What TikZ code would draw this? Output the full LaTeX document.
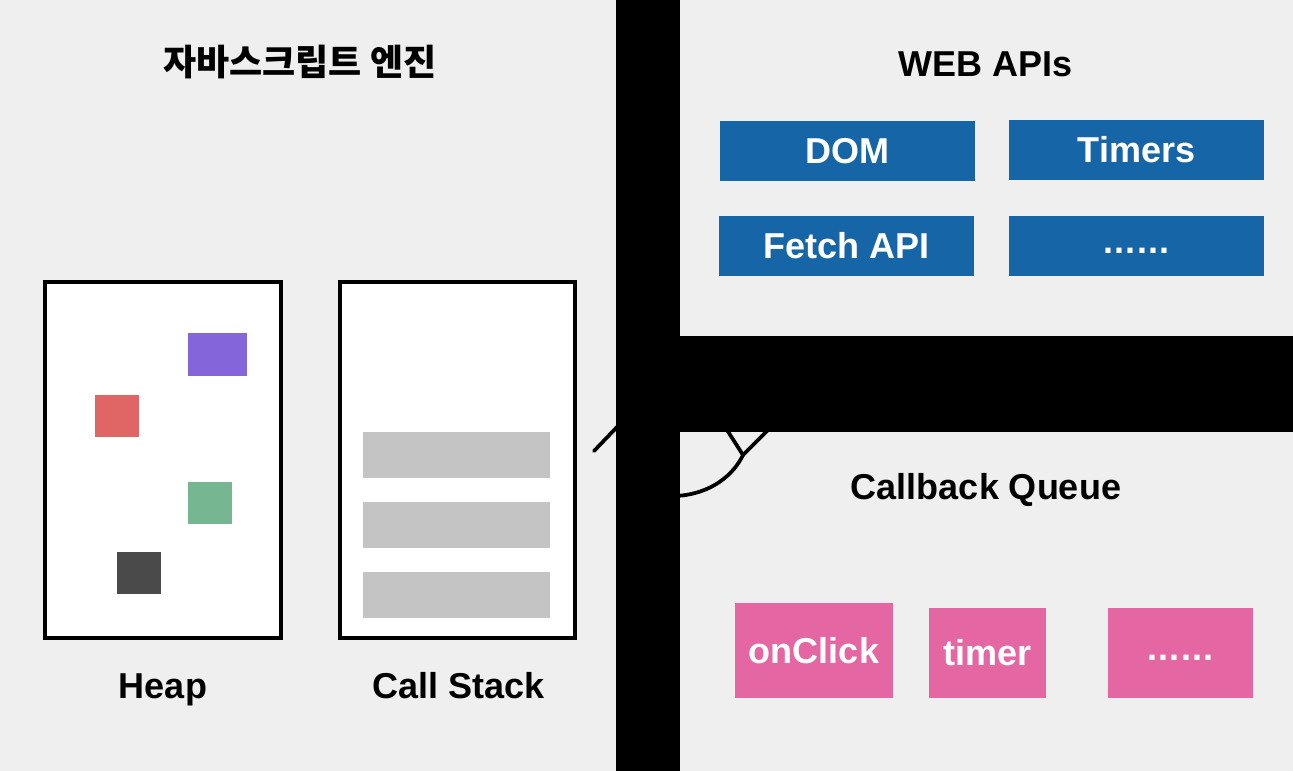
\documentclass[tikz,border=0pt]{standalone}
\usepackage{fontspec}
\setmainfont{Liberation Sans}
\newfontfamily\kr{Noto Sans CJK KR}
\definecolor{bg}{HTML}{EFEFEF}
\definecolor{webblue}{HTML}{1565A7}
\definecolor{qpink}{HTML}{E466A3}
\definecolor{heappurple}{HTML}{8466DA}
\definecolor{heapred}{HTML}{E06666}
\definecolor{heapgreen}{HTML}{76B792}
\definecolor{heapdark}{HTML}{4A4A4A}
\definecolor{stackgray}{HTML}{C4C4C4}
\newcommand{\dotrow}{\raisebox{4pt}{\addfontfeature{LetterSpace=3}......}}
\tikzset{
  title/.style={font=\fontsize{27}{32}\selectfont\bfseries, text=black, inner sep=0pt},
  boxtext/.style={text=white, font=\fontsize{27}{32}\selectfont\bfseries, inner sep=0pt, text height=19.4pt, text depth=0pt},
  bluebox/.style={boxtext, fill=webblue, draw=none, minimum width=255*0.75pt, minimum height=60*0.75pt},
  pinkbox/.style={boxtext, fill=qpink, draw=none, minimum height=90*0.75pt},
  memframe/.style={draw=black, line width=3pt, fill=white},
  band/.style={fill=black, draw=none},
  wire/.style={draw=black, line width=2.8pt, line cap=round}
}
\begin{document}
\begin{tikzpicture}[x=0.75pt,y=-0.75pt]
\useasboundingbox (0,0) rectangle (1293,771);
\fill[bg] (0,0) rectangle (1293,771);

% titles
\node[title] (jstitle) at (300,62) {\kr\bfseries 자바스크립트 엔진};
\node[title, anchor=base] (webtitle) at (986,76) {WEB APIs};
\node[title, anchor=base] (cbtitle) at (986,499) {Callback Queue};
\node[title, anchor=base] (heaplbl) at (163,698) {Heap};
\node[title, anchor=base] (stacklbl) at (459,698) {Call Stack};

% heap and call stack frames
\draw[memframe] (45,282) rectangle (281,638);
\draw[memframe] (340,282) rectangle (575,638);

% heap objects
\fill[heappurple] (188,333) rectangle (247,376);
\fill[heapred] (95,395) rectangle (139,437);
\fill[heapgreen] (188,482) rectangle (232,524);
\fill[heapdark] (117,552) rectangle (161,594);

% call stack frames
\fill[stackgray] (363,432) rectangle (550,478);
\fill[stackgray] (363,502) rectangle (550,548);
\fill[stackgray] (363,572) rectangle (550,618);

% web api boxes
\node[bluebox] (dom) at (847.5,151) {DOM};
\node[bluebox] (timers) at (1136.5,150) {Timers};
\node[bluebox] (fetch) at (846.5,246) {Fetch API};
\node[bluebox] (webmore) at (1136.5,246) {\dotrow};

% callback queue boxes
\node[pinkbox, minimum width=158*0.75pt, minimum height=95*0.75pt] (onclick) at (814,650.5) {onClick};
\node[pinkbox, minimum width=117*0.75pt] (timer) at (987.5,653) {timer};
\node[pinkbox, minimum width=145*0.75pt] (qmore) at (1180.5,653) {\dotrow};

% connectors
\coordinate (la) at (594,451);
\coordinate (lb) at (618,426);
\draw[wire] (la) -- (lb);
\coordinate (ca) at (676,496);
\coordinate (cj) at (743,455);
\coordinate (cl) at (727,430);
\coordinate (cr) at (768,430);
\draw[wire] (ca) .. controls (712,494) and (734,474) .. (cj);
\draw[wire] (cj) -- (cl);
\draw[wire] (cj) -- (cr);

% black bands
\fill[band] (616,0) rectangle (680,771);
\fill[band] (680,336) rectangle (1293,432);
\end{tikzpicture}
\end{document}
